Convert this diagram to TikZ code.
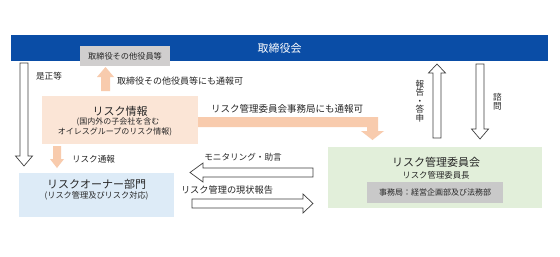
\documentclass[tikz,border=0pt]{standalone}
\usepackage{fontspec}
\setmainfont{Noto Sans CJK JP}
\definecolor{barblue}{HTML}{0A4DA6}
\definecolor{grayA}{HTML}{D0CECE}
\definecolor{grayB}{HTML}{C9C9C9}
\definecolor{peachA}{HTML}{F8CBAD}
\definecolor{peachB}{HTML}{FBE5D6}
\definecolor{blueB}{HTML}{DDEBF7}
\definecolor{greenB}{HTML}{E2EFDA}
\definecolor{linec}{HTML}{404040}
\definecolor{textc}{HTML}{262626}
\newcommand{\fs}[1]{\fontsize{#1}{#1}\selectfont}
\begin{document}
\begin{tikzpicture}[x=1pt,y=-1pt,
  txt/.style={inner sep=0pt, text=textc},
  boxn/.style={inner sep=0pt, draw=none},
  hollow/.style={draw=linec, fill=white, line width=0.7pt, line join=miter},
  peach/.style={fill=peachA, draw=none}]
\useasboundingbox (0,0) rectangle (560,257);
\fill[white] (0,0) rectangle (560,257);

% boxes
\node[boxn, fill=barblue, minimum width=537pt, minimum height=26pt, text=white, font=\fs{11}] (board) at (279.5,48) {取締役会};
\node[boxn, fill=grayA, minimum width=90pt, minimum height=20pt, text=textc, font=\fs{8.2}] (officers) at (125,56) {取締役その他役員等};
\node[boxn, fill=peachB, minimum width=156pt, minimum height=48pt] (info) at (120,120) {};
\node[txt, font=\fs{11}] (infot) at (120,111) {リスク情報};
\node[txt, font=\fs{8}] (infos1) at (118,121.5) {(国内外の子会社を含む};
\node[txt, font=\fs{8}] (infos2) at (115,131.5) {オイレスグループのリスク情報)};
\node[boxn, fill=blueB, minimum width=155pt, minimum height=44pt] (owner) at (96.5,195) {};
\node[txt, font=\fs{11}] (ownert) at (96.5,184.5) {リスクオーナー部門};
\node[txt, font=\fs{8.2}] (owners) at (96.5,196) {(リスク管理及びリスク対応)};
\node[boxn, fill=greenB, minimum width=214pt, minimum height=61pt] (comm) at (435,177.5) {};
\node[txt, font=\fs{11}] (commt) at (436,162) {リスク管理委員会};
\node[txt, font=\fs{8.4}] (comms) at (436,175) {リスク管理委員長};
\node[boxn, fill=grayB, minimum width=136pt, minimum height=21pt, text=textc, font=\fs{8}] (office) at (435,192.5) {事務局：経営企画部及び法務部};

% labels
\node[txt, font=\fs{8.6}] (l1) at (49,76) {是正等};
\node[txt, font=\fs{9}] (l2) at (180,81) {取締役その他役員等にも通報可};
\node[txt, font=\fs{9.5}] (l3) at (287,108.5) {リスク管理委員会事務局にも通報可};
\node[txt, font=\fs{8.6}] (l4) at (93.5,159.5) {リスク通報};
\node[txt, font=\fs{8.6}] (l5) at (243,157) {モニタリング・助言};
\node[txt, font=\fs{9.2}] (l6) at (227,190) {リスク管理の現状報告};
\node[txt, font=\fs{8.6}, align=center] (l7) at (420,101) {報\\[-0.2pt]告\\[-0.2pt]・\\[-0.2pt]答\\[-0.2pt]申};
\node[txt, font=\fs{8.6}, align=center] (l8) at (497.5,102) {諮\\問};

% hollow arrows
\draw[hollow] (20,63) -- (28,63) -- (28,156) -- (32.5,156) -- (24,166) -- (15.5,156) -- (20,156) -- cycle;
\draw[hollow] (437,64) -- (445.5,73) -- (441,73) -- (441,138) -- (433,138) -- (433,73) -- (428.5,73) -- cycle;
\draw[hollow] (476,64) -- (484,64) -- (484,129) -- (488.5,129) -- (480,139) -- (471.5,129) -- (476,129) -- cycle;
\draw[hollow] (190,172.5) -- (203,163) -- (203,168) -- (313,168) -- (313,177) -- (203,177) -- (203,182) -- cycle;
\draw[hollow] (313,203.5) -- (303,194) -- (303,199) -- (192,199) -- (192,208) -- (303,208) -- (303,213) -- cycle;

% peach arrows
\fill[peach] (105.5,67) -- (114,77) -- (110,77) -- (110,91) -- (101,91) -- (101,77) -- (97,77) -- cycle;
\fill[peach] (53,146) -- (61,146) -- (61,159) -- (64,159) -- (57,168) -- (50,159) -- (53,159) -- cycle;
\fill[peach] (198,117) -- (378,117) -- (378,131) -- (384,131) -- (372.5,140) -- (361,131) -- (367,131) -- (367,127) -- (198,127) -- cycle;
\end{tikzpicture}
\end{document}
